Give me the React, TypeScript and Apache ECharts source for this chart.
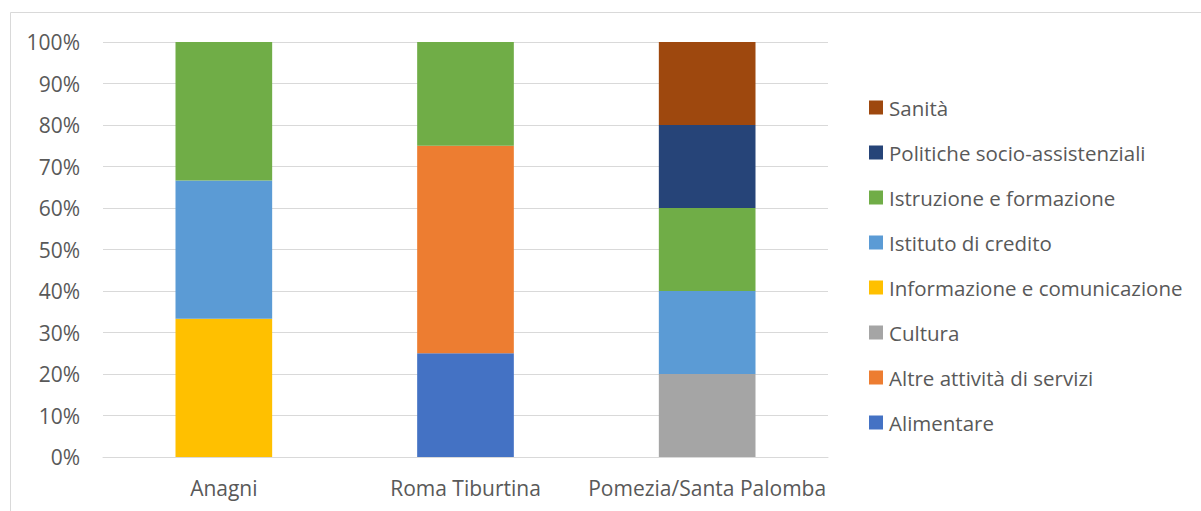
import React, { useEffect, useRef } from "react";
import * as echarts from "echarts";

const categories = ["Anagni", "Roma Tiburtina", "Pomezia/Santa Palomba"];
const seriesNames = [
  "Alimentare",
  "Altre attività di servizi",
  "Cultura",
  "Informazione e comunicazione",
  "Istituto di credito",
  "Istruzione e formazione",
  "Politiche socio-assistenziali",
  "Sanità",
];
const colors = ["#4472C4", "#ED7D31", "#A5A5A5", "#FFC000", "#5B9BD5", "#70AD47", "#264478", "#9E480E"];
const alimentare = [0, 25, 0];
const altre = [0, 50, 0];
const cultura = [0, 0, 20];
const informazione = [33.3, 0, 0];
const istituto = [33.3, 0, 20];
const istruzione = [33.4, 25, 20];
const politiche = [0, 0, 20];
const sanita = [0, 0, 20];
const values = [alimentare, altre, cultura, informazione, istituto, istruzione, politiche, sanita];

const FONT = "'Open Sans', sans-serif";

export default function App() {
  const ref = useRef<HTMLDivElement>(null);
  useEffect(() => {
    document.body.style.margin = "0";
    const chart = echarts.init(ref.current!, null, { renderer: "svg" });
    chart.setOption({
      animation: false,
      backgroundColor: "#ffffff",
      textStyle: { fontFamily: FONT },
      graphic: [
        {
          type: "rect",
          shape: { x: 10.5, y: 12.5, width: 1300, height: 600 },
          style: { fill: "none", stroke: "#d9d9d9", lineWidth: 1 },
          silent: true,
        },
      ],
      grid: { left: 103, right: 373, top: 42, bottom: 54 },
      legend: {
        orient: "vertical",
        left: 869,
        top: 97,
        padding: 0,
        itemWidth: 14,
        itemHeight: 14,
        itemGap: 24,
        icon: "rect",
        data: seriesNames.slice().reverse(),
        textStyle: { color: "#595959", fontSize: 20.5, fontFamily: FONT, padding: [0, 0, 0, 1] },
      },
      xAxis: {
        type: "category",
        data: categories,
        axisLine: { lineStyle: { color: "#d9d9d9" } },
        axisTick: { show: false },
        axisLabel: { color: "#595959", fontSize: 21, margin: 20, interval: 0, fontFamily: FONT },
      },
      yAxis: {
        type: "value",
        min: 0,
        max: 100,
        interval: 10,
        axisLine: { show: false },
        axisTick: { show: false },
        splitLine: { lineStyle: { color: "#d9d9d9" } },
        axisLabel: { color: "#595959", fontSize: 21, margin: 23, formatter: "{value}%", fontFamily: FONT },
      },
      series: seriesNames.map((name, i) => ({
        name,
        type: "bar",
        stack: "total",
        barWidth: "40%",
        data: values[i],
        itemStyle: { color: colors[i] },
      })),
    });
    return () => chart.dispose();
  }, []);
  return <div ref={ref} style={{ width: 1201, height: 511 }} />;
}
